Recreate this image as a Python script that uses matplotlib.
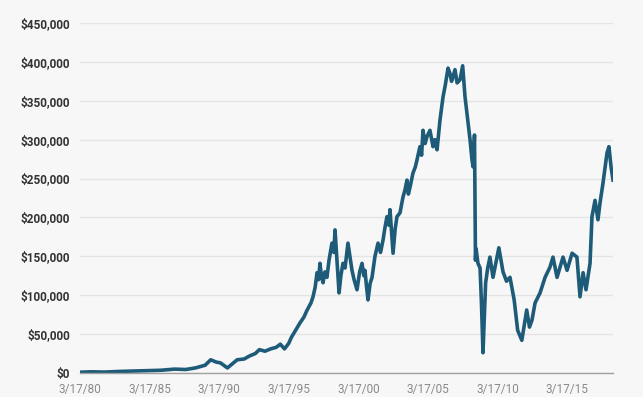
import matplotlib.pyplot as plt
import pandas as pd

plt.rcParams['font.family'] = ['Roboto', 'DejaVu Sans']

# decimal year, value in $ thousands
years = [1980.21, 1981.0, 1982.0, 1983.0, 1984.0, 1985.0, 1986.0, 1987.0, 1987.8, 1988.5,
         1989.2, 1989.6, 1990.0, 1990.3, 1990.8, 1991.1, 1991.5, 1992.0, 1992.4, 1992.8,
         1993.1, 1993.5, 1993.9, 1994.3, 1994.6, 1994.9, 1995.2, 1995.4, 1995.7, 1996.0,
         1996.3, 1996.5, 1996.8, 1996.95, 1997.1, 1997.24, 1997.35, 1997.45, 1997.55, 1997.67,
         1997.8, 1997.95, 1998.1, 1998.31, 1998.45, 1998.53, 1998.65, 1998.82, 1998.95, 1999.1,
         1999.25, 1999.46, 1999.6, 1999.75, 1999.9, 2000.11, 2000.3, 2000.47, 2000.6, 2000.68,
         2000.8, 2000.9, 2001.05, 2001.19, 2001.4, 2001.62, 2001.8, 2001.98, 2002.1, 2002.26,
         2002.4, 2002.48, 2002.6, 2002.7, 2002.85, 2002.98, 2003.2, 2003.41, 2003.55, 2003.7,
         2003.8, 2003.92, 2004.13, 2004.3, 2004.42, 2004.63, 2004.75, 2004.85, 2005.0, 2005.14,
         2005.35, 2005.57, 2005.7, 2005.86, 2006.07, 2006.29, 2006.45, 2006.65, 2006.79, 2006.9,
         2007.01, 2007.15, 2007.3, 2007.51, 2007.7, 2007.87, 2008.01, 2008.23, 2008.37, 2008.45,
         2008.55, 2008.62, 2008.66, 2008.8, 2008.95, 2009.05, 2009.16, 2009.35, 2009.5, 2009.66,
         2009.88, 2010.3, 2010.6, 2010.85, 2011.1, 2011.4, 2011.65, 2011.95, 2012.11,
         2012.3, 2012.5, 2012.68, 2012.9, 2013.26, 2013.62, 2013.97, 2014.19, 2014.48, 2014.91,
         2015.2, 2015.56, 2015.91, 2016.13, 2016.35, 2016.56, 2016.85, 2016.99, 2017.21, 2017.42,
         2017.57, 2017.78, 2018.07, 2018.21, 2018.36, 2018.5]
values = [1, 1.5, 1.2, 2, 2.5, 3, 3.5, 5, 4.5, 6.5,
          10, 17, 14, 13, 6.5, 11, 17, 18, 22, 25,
          30, 28, 31, 33, 37, 31, 38, 46, 55, 64,
          72, 80, 90, 98, 110, 129, 120, 141, 125, 116,
          130, 123, 145, 167, 155, 184, 150, 103, 125, 141,
          135, 167, 150, 132, 120, 107, 130, 141, 125, 132,
          110, 94, 115, 123, 150, 167, 155, 171, 185, 201,
          190, 210, 180, 154, 185, 201, 206, 226, 235, 248,
          230, 239, 257, 265, 274, 291, 280, 312, 295, 304,
          312, 291, 300, 287, 325, 355, 370, 392, 385, 375,
          381, 390, 373, 377, 395, 355, 334, 300, 274, 265,
          306, 145, 160, 141, 135, 90, 26, 116, 135, 149,
          123, 161, 130, 118, 123, 94, 55, 42, 60,
          81, 59, 68, 90, 103, 123, 136, 149, 123, 149,
          132, 154, 149, 98, 129, 107, 141, 201, 222, 197,
          219, 244, 283, 291, 265, 248]

tick_years = [1980, 1985, 1990, 1995, 2000, 2005, 2010, 2015]
tick_labels = ['3/17/80', '3/17/85', '3/17/90', '3/17/95', '3/17/00', '3/17/05', '3/17/10', '3/17/15']
y_ticks = [0, 50000, 100000, 150000, 200000, 250000, 300000, 350000, 400000, 450000]

bg = '#f7f7f7'
fig = plt.figure(figsize=(6.43, 3.97), dpi=100, facecolor=bg)
ax = fig.add_axes([80 / 643, 24 / 397, 533 / 643, 350 / 397], facecolor=bg)

x = pd.Series(years)
ax.plot(x, [v * 1000 for v in values], color='#1e5b78', lw=2.6, solid_joinstyle='round')

ax.set_xlim(1980.21, 2018.5)
ax.set_ylim(0, 450000)
ax.set_xticks([y + 0.21 for y in tick_years])
ax.set_xticklabels(tick_labels, color='#8a8a8a', fontsize=8.5)
ax.set_yticks(y_ticks)
ax.set_yticklabels(['${:,}'.format(v) for v in y_ticks], color='#333333',
                   fontsize=8.5, fontweight='bold')
ax.tick_params(length=0)
ax.tick_params(axis='y', pad=7)
ax.tick_params(axis='x', pad=7)
ax.grid(axis='y', color='#e4e4e4', lw=1)
ax.set_axisbelow(True)
for s in ['top', 'right', 'left']:
    ax.spines[s].set_visible(False)
ax.spines['bottom'].set_color('#a0a0a0')
ax.spines['bottom'].set_linewidth(1)

fig.savefig('out.png', dpi=100, facecolor=bg)
